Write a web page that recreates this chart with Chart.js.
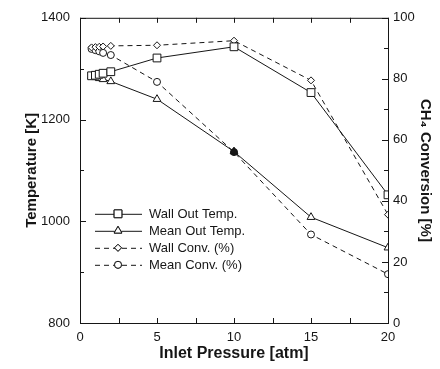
<!DOCTYPE html>
<html>
<head>
<meta charset="utf-8">
<script src="https://cdn.jsdelivr.net/npm/chart.js@4.4.1/dist/chart.umd.min.js"></script>
<style>
  html, body { margin: 0; padding: 0; background: #fff; }
  #wrap { width: 440px; height: 369px; }
</style>
</head>
<body>
<div id="wrap"><canvas id="pressChart" width="440" height="369"></canvas></div>
<script>
// inlet pressure [atm]
const pressure = [0.75, 1, 1.25, 1.5, 2, 5, 10, 15, 20];
// temperatures [K] (left axis)
const wallOutTemp = [1286, 1287, 1289, 1291, 1294, 1321, 1343, 1253, 1052];
const meanOutTemp = [1285, 1283, 1281, 1279, 1275, 1240, 1137, 1008, 948];
// CH4 conversion [%] (right axis)
const wallConv = [90.3, 90.4, 90.5, 90.6, 90.8, 91, 92.5, 79.5, 35.5];
const meanConv = [89.8, 89.4, 89, 88.5, 87.8, 79, 56, 29, 16];

const tempTicks = [800, 1000, 1200, 1400];
const convTicks = [0, 20, 40, 60, 80, 100];
const pressTicks = [0, 5, 10, 15, 20];

const seriesNames = ["Wall Out Temp.", "Mean Out Temp.", "Wall Conv. (%)", "Mean Conv. (%)"];

document.addEventListener("DOMContentLoaded", function () {
  const ctx = document.getElementById("pressChart").getContext("2d");
  const ink = "#161616";
  const font = "Arial, 'Liberation Sans', sans-serif";

  function toXY(ys) {
    return pressure.map((p, i) => ({ x: p, y: ys[i] }));
  }

  // the mean points at 10 atm sit on top of each other and look solid
  const fillAt10 = (c) => (c.raw && c.raw.x === 10 ? ink : "#fff");
  const plain = (v) => String(v);

  // frame + inward tick marks, like the original plot
  const frameTicks = {
    id: "frameTicks",
    afterDatasetsDraw(chart) {
      const { ctx, chartArea: a, scales } = chart;
      ctx.save();
      ctx.strokeStyle = ink;
      ctx.lineWidth = 1;
      ctx.setLineDash([]);
      ctx.strokeRect(a.left + 0.5, a.top + 0.5, a.right - a.left, a.bottom - a.top);
      ctx.beginPath();
      for (let v = 800; v <= 1400; v += 100) {
        const y = Math.round(scales.y.getPixelForValue(v)) + 0.5;
        const len = v % 200 === 0 ? 6 : 4;
        ctx.moveTo(a.left, y);
        ctx.lineTo(a.left + len, y);
      }
      for (let v = 0; v <= 100; v += 10) {
        const y = Math.round(scales.y1.getPixelForValue(v)) + 0.5;
        const len = v % 20 === 0 ? 6 : 4;
        ctx.moveTo(a.right, y);
        ctx.lineTo(a.right - len, y);
      }
      for (let v = 0; v <= 20; v += 2.5) {
        const x = Math.round(scales.x.getPixelForValue(v)) + 0.5;
        ctx.moveTo(x, a.bottom);
        ctx.lineTo(x, a.bottom - 5);
        ctx.moveTo(x, a.top);
        ctx.lineTo(x, a.top + 5);
      }
      ctx.stroke();
      ctx.restore();
    },
  };

  // legend inside the plot, line + marker + label
  const insideLegend = {
    id: "insideLegend",
    afterDraw(chart) {
      const { ctx, chartArea: a } = chart;
      ctx.save();
      chart.data.datasets.forEach((ds, i) => {
        const y = a.top + 196 + i * 17;
        const x0 = a.left + 15;
        ctx.strokeStyle = ink;
        ctx.lineWidth = 1;
        ctx.setLineDash(ds.borderDash || []);
        ctx.beginPath();
        ctx.moveTo(x0, y + 0.5);
        ctx.lineTo(x0 + 47, y + 0.5);
        ctx.stroke();
        ctx.setLineDash([]);
        ctx.fillStyle = "#fff";
        Chart.helpers.drawPoint(ctx, {
          pointStyle: ds.pointStyle,
          radius: ds.pointRadius,
          rotation: 0,
          borderWidth: 1,
        }, x0 + 23, y);
        ctx.fill();
        ctx.stroke();
        ctx.fillStyle = ink;
        ctx.font = "13px " + font;
        ctx.textBaseline = "middle";
        ctx.textAlign = "left";
        ctx.fillText(ds.label, x0 + 54, y + 1);
      });
      ctx.restore();
    },
  };

  const common = {
    borderColor: ink,
    borderWidth: 1,
    pointBorderColor: ink,
    pointBorderWidth: 1,
    pointBackgroundColor: "#fff",
    fill: false,
    tension: 0,
  };

  new Chart(ctx, {
    type: "line",
    data: {
      datasets: [
        { ...common, label: seriesNames[0], data: toXY(wallOutTemp), yAxisID: "y", pointStyle: "rect", pointRadius: 5.5 },
        { ...common, label: seriesNames[1], data: toXY(meanOutTemp), yAxisID: "y", pointStyle: "triangle", pointRadius: 4.5, pointBackgroundColor: fillAt10 },
        { ...common, label: seriesNames[2], data: toXY(wallConv), yAxisID: "y1", pointStyle: "rectRot", pointRadius: 3.5, borderDash: [5, 4] },
        { ...common, label: seriesNames[3], data: toXY(meanConv), yAxisID: "y1", pointStyle: "circle", pointRadius: 3.5, borderDash: [5, 4], pointBackgroundColor: fillAt10 },
      ],
    },
    options: {
      responsive: false,
      animation: false,
      layout: { padding: { top: 14, left: 0, right: 0, bottom: 0 } },
      plugins: { legend: { display: false }, tooltip: { enabled: false } },
      scales: {
        x: {
          type: "linear",
          min: 0,
          max: 20,
          afterFit: (s) => { s.height = 46; },
          afterBuildTicks: (s) => { s.ticks = pressTicks.map((v) => ({ value: v })); },
          grid: { display: false, drawTicks: false },
          border: { display: false },
          ticks: { color: ink, padding: 7, maxRotation: 0, callback: plain, font: { size: 13, family: font } },
          title: {
            display: true,
            text: "Inlet Pressure [atm]",
            color: ink,
            padding: { top: 0, bottom: 6 },
            font: { size: 16, weight: "bold", family: font },
          },
        },
        y: {
          position: "left",
          min: 800,
          max: 1400,
          afterFit: (s) => { s.width = 80; },
          afterBuildTicks: (s) => { s.ticks = tempTicks.map((v) => ({ value: v })); },
          grid: { display: false, drawTicks: false },
          border: { display: false },
          ticks: { color: ink, padding: 10, callback: plain, font: { size: 13, family: font } },
          title: {
            display: true,
            text: "Temperature [K]",
            color: ink,
            padding: { top: 23, bottom: 0 },
            font: { size: 15, weight: "bold", family: font },
          },
        },
        y1: {
          position: "right",
          min: 0,
          max: 100,
          afterFit: (s) => { s.width = 52; },
          afterBuildTicks: (s) => { s.ticks = convTicks.map((v) => ({ value: v })); },
          grid: { display: false, drawTicks: false },
          border: { display: false },
          ticks: { color: ink, padding: 5, callback: plain, font: { size: 13, family: font } },
          title: {
            display: true,
            text: "CH\u2084 Conversion [%]",
            color: ink,
            padding: { top: 6, bottom: 0 },
            font: { size: 15, weight: "bold", family: font },
          },
        },
      },
    },
    plugins: [frameTicks, insideLegend],
  });
});
</script>
</body>
</html>
